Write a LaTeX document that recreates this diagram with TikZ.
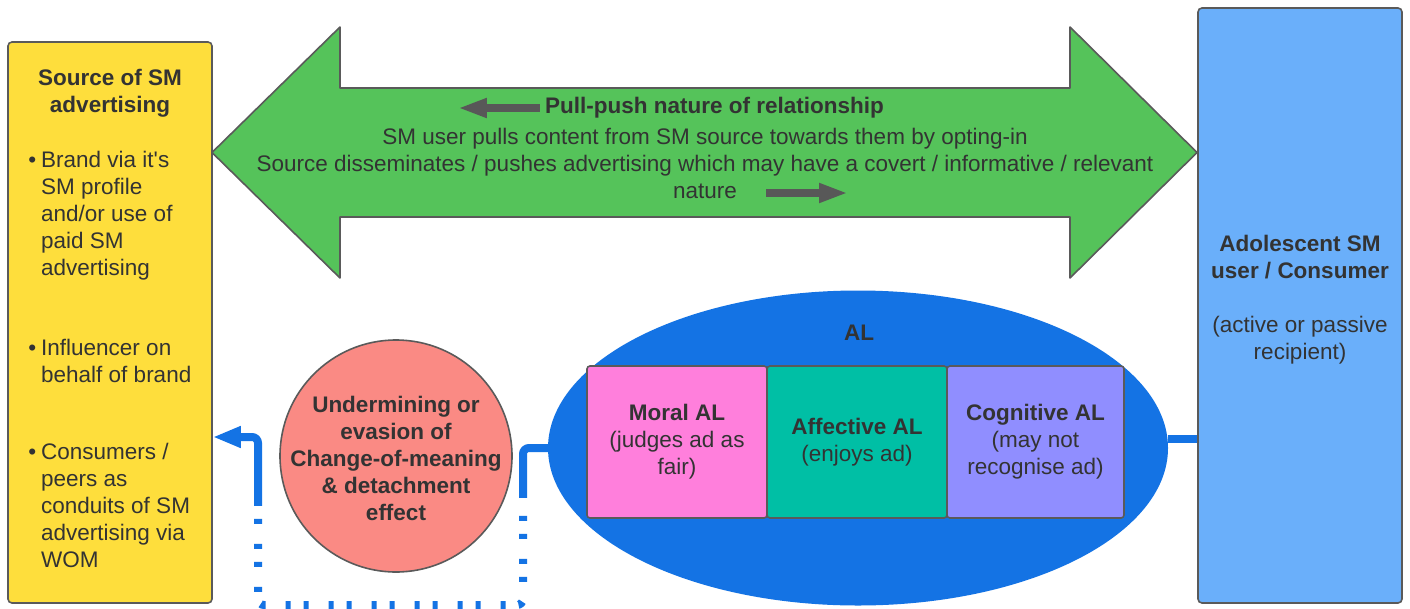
\documentclass[tikz,border=0pt]{standalone}
\usepackage{fontspec}
\setmainfont{Liberation Sans}
\usetikzlibrary{arrows.meta,shapes.geometric}

\definecolor{ink}{RGB}{51,51,51}
\definecolor{edge}{RGB}{90,90,90}
\definecolor{srcyellow}{RGB}{254,222,60}
\definecolor{relgreen}{RGB}{85,195,90}
\definecolor{userblue}{RGB}{106,175,250}
\definecolor{alblue}{RGB}{20,115,228}
\definecolor{moralpink}{RGB}{255,127,220}
\definecolor{affteal}{RGB}{0,191,165}
\definecolor{cogviolet}{RGB}{144,142,255}
\definecolor{salmon}{RGB}{250,138,132}
\definecolor{pointergray}{RGB}{88,88,88}

% bullet hanging to the left of the first line of an item
\newcommand{\itembul}{\llap{\textbullet\hspace{5pt}}}

\begin{document}
\begin{tikzpicture}[x=1pt,y=-1pt,
  txt/.style={text=ink, font=\fontsize{22.5}{27}\selectfont, inner sep=0pt, align=center},
  panel/.style={draw=edge, line width=1.6pt, rounded corners=4pt, inner sep=0pt},
  albox/.style={panel, txt, rounded corners=3pt, minimum height=152pt},
  link/.style={draw=alblue, line width=8pt},
  pointer/.style={draw=pointergray, line width=8pt, -{Triangle[length=29pt,width=18pt]}},
  relshape/.style={draw=edge, fill=relgreen, line width=1.6pt, line join=round}]

\fill[white] (0,0) rectangle (1410,608);
\useasboundingbox (0,0) rectangle (1410,608);

% source column
\node[panel, fill=srcyellow, minimum width=204pt, minimum height=561pt] (source) at (110,322.5) {};
\node[txt] (srctitle) at (110,93.5) {\textbf{Source of SM}\\\textbf{advertising}};
\node[txt, anchor=west, align=left] (brand) at (41,215.5)
  {\itembul Brand via it\textquotesingle s\\SM profile\\and/or use of\\paid SM\\advertising};
\node[txt, anchor=west, align=left] (influencer) at (41,360.5)
  {\itembul Influencer on\\behalf of brand};
\node[txt, anchor=west, align=left] (peers) at (41,505)
  {\itembul Consumers /\\peers as\\conduits of SM\\advertising via\\WOM};

% consumer column
\node[panel, fill=userblue, minimum width=204pt, minimum height=595pt] (consumer) at (1300,305.5) {};
\node[txt] (usertext) at (1300,299.5)
  {\textbf{Adolescent SM}\\\textbf{user / Consumer}\\[27pt](active or passive\\recipient)};

% pull-push double arrow
\draw[relshape] (212,152.5) -- (340,27) -- (340,88) -- (1070,88) -- (1070,27)
  -- (1197,152.5) -- (1070,278) -- (1070,217) -- (340,217) -- (340,278) -- cycle;
\node[txt] (reltitle) at (714.5,108) {\textbf{Pull-push nature of relationship}};
\node[txt] (relbody) at (705,163)
  {SM user pulls content from SM source towards them by opting-in\\
   Source disseminates / pushes advertising which may have a covert / informative / relevant\\
   nature};
\draw[pointer] ([xshift=-5pt]reltitle.west) -- ++(-82,0);
\coordinate (pushfrom) at (766,193);
\coordinate (pushto) at (848,193);
\draw[pointer] (pushfrom) -- (pushto);

% advertising literacy
\node[ellipse, fill=alblue, minimum width=620pt, minimum height=315pt, inner sep=0pt] (AL) at (858,448) {};
\node[txt] (altitle) at (859,332.5) {\textbf{AL}};
\node[albox, fill=moralpink, minimum width=180pt] (moral) at (677,442)
  {\textbf{Moral AL}\\(judges ad as\\fair)};
\node[albox, fill=affteal, minimum width=180pt] (affective) at (857,442)
  {\textbf{Affective AL}\\(enjoys ad)};
\node[albox, fill=cogviolet, minimum width=177pt] (cognitive) at (1035.5,442)
  {\textbf{Cognitive AL}\\(may not\\recognise ad)};

% change-of-meaning effect
\node[circle, draw=edge, line width=1.6pt, fill=salmon, minimum size=232pt, inner sep=0pt] (undermine) at (396,456) {};
\node[txt] (underminetext) at (396,458)
  {\textbf{Undermining or}\\\textbf{evasion of}\\\textbf{Change-of-meaning}\\\textbf{\& detachment}\\\textbf{effect}};

% connectors
\draw[link] ([yshift=9pt]AL.east) -- ([yshift=9pt]AL.east -| consumer.west);

\coordinate (dropR) at (523,605);
\coordinate (dropL) at (258,605);
\coordinate (rise) at (258,437);
\draw[link, rounded corners=6pt,
  dash pattern=on 72pt off 18pt
    on 5pt off 13pt on 5pt off 20pt on 5pt off 13pt on 5pt off 20pt
    on 5pt off 13pt on 5pt off 20pt on 5pt off 13pt on 5pt off 20pt
    on 5pt off 13pt on 5pt off 20pt on 5pt off 13pt on 5pt off 20pt
    on 5pt off 13pt on 5pt off 20pt on 5pt off 13pt on 5pt off 20pt
    on 5pt off 13pt on 5pt off 20pt on 5pt off 13pt on 5pt off 20pt
    on 5pt off 13pt on 300pt off 1pt,
  -{Triangle[length=28pt,width=20pt]}]
  (AL.west) -| (dropR) -- (dropL) -- (rise) -- (rise -| source.east);

\end{tikzpicture}
\end{document}
